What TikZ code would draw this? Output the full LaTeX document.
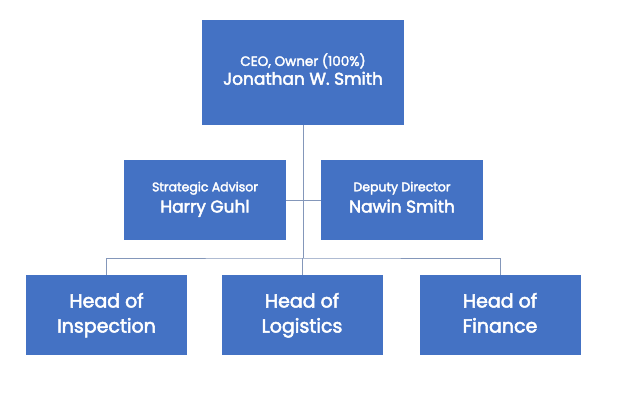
\documentclass[tikz,border=0pt]{standalone}
\usepackage{fontspec}
\setmainfont{Poppins}[FakeBold=2.6]
\usetikzlibrary{calc}
\definecolor{boxblue}{RGB}{68,114,196}
\definecolor{linkgray}{RGB}{132,151,186}

\begin{document}
\begin{tikzpicture}[x=1pt,y=-1pt,
    unit/.style={fill=boxblue, text=white, align=center, inner sep=0pt},
    big/.style={unit, minimum width=202pt, minimum height=105pt},
    mid/.style={unit, minimum width=162pt, minimum height=80pt},
    low/.style={unit, minimum width=161pt, minimum height=80pt,
        font=\fontsize{19}{25}\selectfont},
    link/.style={draw=linkgray, line width=0.9pt}]
    \useasboundingbox (0,0) rectangle (624,400);
            \node (ceo) at (303,72) [big] {{\fontsize{13.5}{16}\selectfont CEO, Owner (100\%)\strut}\\[-1pt]
                {\fontsize{17}{20}\selectfont Jonathan W. Smith\strut}};
            \node (adv) at (205,200) [mid] {{\fontsize{12.5}{14}\selectfont Strategic Advisor\strut}\\[2pt]
                {\fontsize{17}{20}\selectfont Harry Guhl\strut}};
            \node (dep) at (402,200) [mid] {{\fontsize{12.5}{14}\selectfont Deputy Director\strut}\\[2pt]
                {\fontsize{17}{20}\selectfont Nawin Smith\strut}};
            \node (insp) at (106.5,315) [low] {Head of\strut\\Inspection\strut};
            \node (logi) at (302,315) [low] {Head of\strut\\Logistics\strut};
            \node (fin) at (500,315) [low] {Head of\strut\\Finance\strut};
            \coordinate (bus) at (303,258);
            \draw[link] (ceo) -- (ceo |- bus);
            \draw[link] (adv) -- (dep);
            \draw[link] (insp) |- (bus) -| (fin);
            \draw[link] (logi.north) -- (logi |- bus);
    \end{tikzpicture}
\end{document}
